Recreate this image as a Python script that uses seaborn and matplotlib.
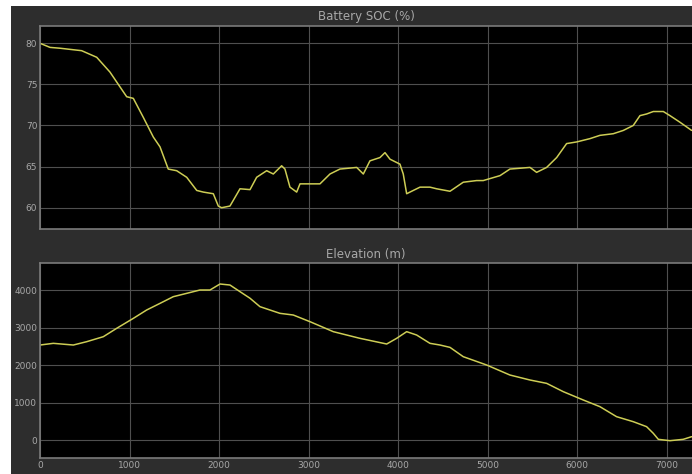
import numpy as np
import pandas as pd
import seaborn as sns
import matplotlib.pyplot as plt
from matplotlib.patches import Rectangle

# Battery SOC (%) vs distance
soc_x = [0, 112, 223, 465, 633, 781, 893, 968, 1042, 1153, 1265, 1340, 1432, 1526,
         1638, 1750, 1823, 1935, 1991, 2028, 2121, 2233, 2345, 2419, 2531, 2605,
         2698, 2735, 2791, 2866, 2903, 3126, 3238, 3349, 3536, 3610, 3684, 3796,
         3852, 3908, 4019, 4056, 4094, 4168, 4243, 4354, 4429, 4578, 4726, 4875,
         4949, 5136, 5247, 5471, 5545, 5657, 5769, 5880, 5992, 6140, 6252, 6401,
         6513, 6624, 6699, 6773, 6848, 6960, 7034, 7145, 7276]
soc_y = [80.0, 79.5, 79.4, 79.1, 78.3, 76.5, 74.7, 73.5, 73.3, 71.0, 68.6, 67.4, 64.7, 64.5,
         63.7, 62.1, 61.9, 61.7, 60.2, 60.0, 60.2, 62.3, 62.2, 63.7, 64.5, 64.1,
         65.1, 64.7, 62.5, 61.9, 62.9, 62.9, 64.1, 64.7, 64.9, 64.1, 65.7, 66.1,
         66.7, 65.9, 65.3, 64.1, 61.7, 62.1, 62.5, 62.5, 62.3, 62.0, 63.1, 63.3,
         63.3, 63.9, 64.7, 64.9, 64.3, 64.9, 66.1, 67.8, 68.0, 68.4, 68.8, 69.0,
         69.4, 70.0, 71.2, 71.4, 71.7, 71.7, 71.2, 70.4, 69.4]

# Elevation (m) vs distance
elev_x = [0, 149, 372, 521, 707, 856, 1042, 1191, 1340, 1488, 1638, 1786, 1898, 2010,
          2121, 2233, 2345, 2456, 2679, 2828, 3014, 3275, 3573, 3871, 3982, 4094,
          4205, 4354, 4466, 4578, 4726, 4987, 5247, 5471, 5657, 5843, 6066, 6252,
          6438, 6624, 6773, 6848, 6904, 7034, 7182, 7276]
elev_y = [2533, 2578, 2533, 2622, 2755, 2978, 3244, 3467, 3644, 3822, 3911, 4000, 4000, 4160,
          4133, 3956, 3780, 3556, 3378, 3333, 3156, 2889, 2711, 2560, 2711, 2889,
          2800, 2578, 2533, 2470, 2222, 2000, 1733, 1600, 1511, 1289, 1067, 889,
          622, 489, 356, 178, 18, -18, 18, 89]

x_ticks = [0, 1000, 2000, 3000, 4000, 5000, 6000, 7000]
soc_ticks = [60, 65, 70, 75, 80]
elev_ticks = [0, 1000, 2000, 3000, 4000]

bg = "#2d2d2d"
grid_c = "#4f4f4f"
txt_c = "#a8a8a8"
line_c = "#cdcd55"

sns.set_theme(style="dark")
plt.rcParams["font.family"] = ["DejaVu Sans"]

fig = plt.figure(figsize=(6.92, 4.74), dpi=100, facecolor=bg)
# white margin on the left and top of the screenshot
fig.patches.append(Rectangle((0, 0), 11 / 692, 1, transform=fig.transFigure,
                             facecolor="white", edgecolor="none", zorder=-5))
fig.patches.append(Rectangle((0, 1 - 6 / 474), 1, 6 / 474, transform=fig.transFigure,
                             facecolor="white", edgecolor="none", zorder=-5))

ax1 = fig.add_axes([40 / 692, 0.5162, 652 / 692, 0.4289])
ax2 = fig.add_axes([40 / 692, 0.0331, 652 / 692, 0.4114])

df_soc = pd.DataFrame({"x": soc_x, "y": soc_y})
df_elev = pd.DataFrame({"x": elev_x, "y": elev_y})
sns.lineplot(data=df_soc, x="x", y="y", ax=ax1, color=line_c, linewidth=1.1)
sns.lineplot(data=df_elev, x="x", y="y", ax=ax2, color=line_c, linewidth=1.1)

for ax, yt, ylim in [(ax1, soc_ticks, (57.37, 82.1)), (ax2, elev_ticks, (-488, 4712))]:
    ax.set_facecolor("black")
    ax.set_xlim(0, 7280)
    ax.set_ylim(*ylim)
    ax.set_xticks(x_ticks)
    ax.set_yticks(yt)
    ax.grid(True, color=grid_c, linewidth=0.8)
    ax.set_xlabel("")
    ax.set_ylabel("")
    for side in ["left", "top", "bottom"]:
        ax.spines[side].set_color("#7a7a7a")
        ax.spines[side].set_linewidth(1.2)
    ax.spines["right"].set_visible(False)
    ax.tick_params(colors=txt_c, labelsize=6.5, length=3, direction="in", pad=2)

ax1.tick_params(labelbottom=False)
ax1.set_title("Battery SOC (%)", color=txt_c, fontsize=8.5, pad=4)
ax2.set_title("Elevation (m)", color=txt_c, fontsize=8.5, pad=4)

fig.savefig("out.png", dpi=100, facecolor=fig.get_facecolor())
